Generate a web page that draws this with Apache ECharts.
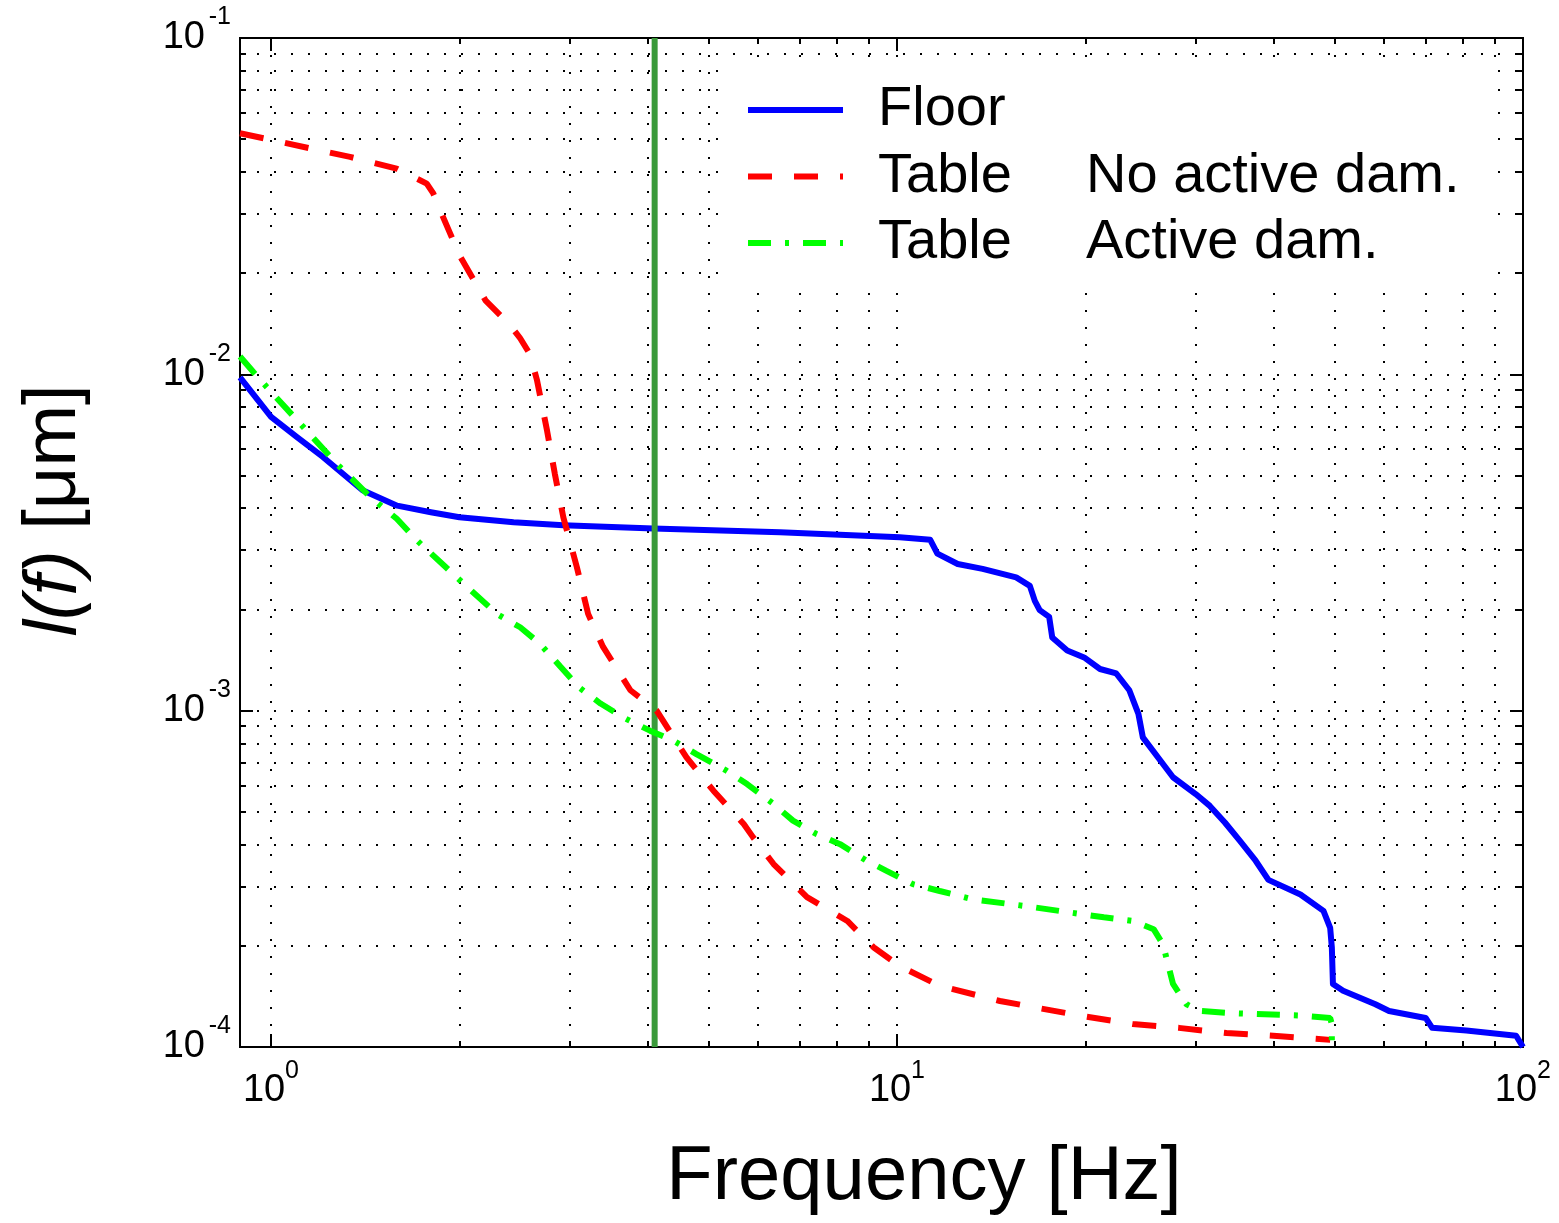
<!DOCTYPE html>
<html>
<head>
<meta charset="utf-8">
<title>l(f)</title>
<script src="https://cdn.jsdelivr.net/npm/echarts@6.0.0/dist/echarts.min.js"></script>
<style>
html, body { margin: 0; padding: 0; background: #fff; }
#main { width: 1559px; height: 1223px; }
</style>
</head>
<body>
<div id="main"></div>
<script>
// axis ranges and ticks
var xMin = 0.892, xMax = 100;
var yMin = 1e-4, yMax = 1e-1;
var xMajor = [1, 10, 100];
var xMinor = [2, 3, 4, 5, 6, 7, 8, 9, 20, 30, 40, 50, 60, 70, 80, 90];
var yMajor = [1e-4, 1e-3, 1e-2, 1e-1];
var yMinor = [2e-4, 3e-4, 4e-4, 5e-4, 6e-4, 7e-4, 8e-4, 9e-4,
              2e-3, 3e-3, 4e-3, 5e-3, 6e-3, 7e-3, 8e-3, 9e-3,
              2e-2, 3e-2, 4e-2, 5e-2, 6e-2, 7e-2, 8e-2, 9e-2];

// legend texts
var seriesNames = ['Floor', 'Table', 'Table'];
var seriesNotes = ['', 'No active dam.', 'Active dam.'];
var legendKeys = ['Floor', 'Table No active dam.', 'Table Active dam.'];

// Floor
var floorFreq = [0.892, 1.0, 1.1, 1.21, 1.4, 1.59, 1.8, 2.0, 2.44, 2.93, 4.08, 6.5, 10.1, 11.3, 11.6, 12.5, 13.7, 15.5, 16.3, 16.6,
                 16.9, 17.5, 17.7, 18.7, 19.9, 21.1, 22.4, 23.5, 24.3, 24.7, 26.6, 27.6, 30.0, 31.6, 33.4, 35.3, 37.4, 39.2, 44.1, 48.0,
                 49.2, 49.5, 49.7, 51.6, 58.1, 61.1, 69.9, 71.6, 81.2, 97.5, 100];
var floorAmp = [0.0098, 0.00747, 0.00651, 0.00568, 0.00452, 0.00407, 0.00389, 0.00376, 0.00363, 0.00356, 0.00348, 0.00339, 0.00328, 0.00322, 0.00293, 0.00273, 0.00264, 0.00249, 0.00235, 0.00212,
                0.00199, 0.0019, 0.00165, 0.00151, 0.00144, 0.00133, 0.00129, 0.00115, 0.000978, 0.000833, 0.000694, 0.000634, 0.000565, 0.000521, 0.000465, 0.00041, 0.000358, 0.000314, 0.000284, 0.000254,
                0.000226, 0.000198, 0.000154, 0.000147, 0.000134, 0.000128, 0.000122, 0.000114, 0.000112, 0.000108, 0.0001];

// Table, no active damping
var tableFreq = [0.892, 1.337, 1.587, 1.773, 1.816, 1.862, 2.0, 2.2, 2.41, 2.5, 2.59, 2.66, 2.76, 2.84, 2.93, 3.08, 3.21, 3.39, 3.75, 4.13,
                 4.61, 5.09, 5.69, 5.89, 6.35, 7.18, 8.33, 9.17, 10.1, 11.7, 14.6, 19.6, 23.8, 28.2, 33.6, 39.9, 49.2];
var tableAmp = [0.0521, 0.0443, 0.0409, 0.0369, 0.0345, 0.0308, 0.0226, 0.0166, 0.014, 0.0128, 0.0115, 0.0096, 0.0068, 0.00506, 0.00376, 0.00267, 0.00194, 0.00155, 0.00115, 0.001,
                0.000726, 0.000578, 0.00046, 0.00042, 0.00035, 0.000279, 0.000237, 0.000198, 0.000174, 0.000152, 0.000137, 0.000124, 0.000117, 0.000114, 0.00011, 0.000108, 0.000105];

// Table, active damping
var activeFreq = [0.892, 0.937, 0.984, 1.126, 1.273, 1.44, 1.588, 1.71, 1.98, 2.295, 2.5, 2.69, 2.9, 3.11, 3.36, 3.65, 4.03, 4.39, 4.78, 5.34,
                  5.76, 6.35, 6.82, 7.43, 8.11, 8.94, 9.62, 10.6, 11.7, 13.2, 15.9, 21.4, 23.8, 25.7, 26.6, 27.1, 27.6, 29.0, 30.5, 34.5,
                  44.1, 49.2, 49.5, 49.5];
var activeAmp = [0.0113, 0.01016, 0.00917, 0.00697, 0.00542, 0.00432, 0.00372, 0.00321, 0.00249, 0.00194, 0.00177, 0.00158, 0.00135, 0.00117, 0.00105, 0.000955, 0.000872, 0.000815, 0.000743, 0.000663,
                 0.000605, 0.000528, 0.000471, 0.00043, 0.000401, 0.000358, 0.000334, 0.000305, 0.000291, 0.000275, 0.000263, 0.000243, 0.000237, 0.000224, 0.000202, 0.000176, 0.000154, 0.000134, 0.000128, 0.000126,
                 0.000124, 0.000122, 0.000117, 0.00009];

// vertical marker
var cutoffFreq = 4.1;

var font = "'Liberation Sans', Arial, Helvetica, sans-serif";

function pairs(fs, vs) {
	return fs.map(function (f, i) { return [f, vs[i]]; });
}

function baseLabel() {
	return '10';
}
function expLabel(v) {
	return String(Math.round(Math.log10(v)));
}

var gridDots = { show: true, lineStyle: { color: '#000', width: 2, type: [2, 15] } };

// "10" goes on the major-tick axis, the exponent on the minor-tick axis
function xAxisOf(pos, ticks, len, label, withGrid) {
	var ax = {
		type: 'log', position: pos, min: xMin, max: xMax,
		axisLine: { show: false },
		axisTick: { show: true, inside: true, length: len, customValues: ticks, lineStyle: { color: '#000', width: 2 } },
		axisLabel: { show: false },
		splitLine: withGrid ? gridDots : { show: false },
		minorTick: { show: false }
	};
	if (label === 'base') {
		ax.axisLabel = { show: true, customValues: xMajor, margin: 25, fontSize: 38, lineHeight: 38, color: '#000', fontFamily: font,
			padding: [0, 14, 0, 0], formatter: baseLabel };
		ax.name = 'Frequency [Hz]';
		ax.nameLocation = 'middle';
		ax.nameGap = 93;
		ax.nameTextStyle = { fontSize: 76, color: '#000', fontFamily: font, padding: [0, 0, 0, 85] };
	} else if (label === 'exp') {
		ax.axisLabel = { show: true, customValues: xMajor, margin: 12, fontSize: 25, lineHeight: 25, color: '#000', fontFamily: font,
			padding: [0, 0, 0, 42], formatter: expLabel };
	}
	return ax;
}

function yAxisOf(pos, ticks, len, label, withGrid) {
	var ax = {
		type: 'log', position: pos, min: yMin, max: yMax,
		axisLine: { show: false },
		axisTick: { show: true, inside: true, length: len, customValues: ticks, lineStyle: { color: '#000', width: 2 } },
		axisLabel: { show: false },
		splitLine: withGrid ? gridDots : { show: false },
		minorTick: { show: false }
	};
	if (label === 'base') {
		ax.axisLabel = { show: true, customValues: yMajor, margin: 35, fontSize: 38, lineHeight: 38, color: '#000', fontFamily: font,
			formatter: baseLabel };
		ax.name = '{i|l(f)} [μm]';
		ax.nameLocation = 'middle';
		ax.nameGap = 148;
		ax.nameTextStyle = {
			fontSize: 74, color: '#000', fontFamily: font, padding: [0, 0, 0, 64],
			rich: { i: { fontSize: 74, fontStyle: 'italic', color: '#000', fontFamily: font } }
		};
	} else if (label === 'exp') {
		ax.axisLabel = { show: true, customValues: yMajor, margin: 9, fontSize: 25, lineHeight: 25, color: '#000', fontFamily: font,
			verticalAlign: 'bottom', padding: [0, 0, 8, 0], formatter: expLabel };
	}
	return ax;
}

var chart = echarts.init(document.getElementById('main'));

var option = {
	animation: false,
	backgroundColor: '#fff',
	grid: { left: 240, right: 36, top: 38, bottom: 176, show: true, borderColor: '#000', borderWidth: 2, backgroundColor: 'transparent' },
	xAxis: [
		xAxisOf('bottom', xMajor, 13, 'base', true),
		xAxisOf('bottom', xMinor, 6, 'exp', true),
		xAxisOf('top', xMajor, 13, null, false),
		xAxisOf('top', xMinor, 6, null, false)
	],
	yAxis: [
		yAxisOf('left', yMajor, 13, 'base', true),
		yAxisOf('left', yMinor, 6, 'exp', true),
		yAxisOf('right', yMajor, 13, null, false),
		yAxisOf('right', yMinor, 6, null, false)
	],
	legend: {
		orient: 'vertical',
		left: 722,
		top: 68,
		padding: [14, 37, 11, 23],
		backgroundColor: '#fff',
		itemWidth: 95,
		itemHeight: 20,
		itemGap: 10.5,
		itemStyle: { opacity: 0 },
		lineStyle: { width: 6 },
		data: legendKeys,
		formatter: function (name) {
			var i = legendKeys.indexOf(name);
			if (!seriesNotes[i]) return '{a|' + seriesNames[i] + '}';
			return '{a|' + seriesNames[i] + '}{b|' + seriesNotes[i] + '}';
		},
		textStyle: {
			fontSize: 56, lineHeight: 56, color: '#000', fontFamily: font,
			rich: {
				a: { fontSize: 56, lineHeight: 56, width: 208, padding: [0, 0, 0, 30], color: '#000', fontFamily: font },
				b: { fontSize: 56, lineHeight: 56, color: '#000', fontFamily: font }
			}
		}
	},
	series: [
		{
			name: legendKeys[0], type: 'line', symbol: 'none', showSymbol: false,
			data: pairs(floorFreq, floorAmp),
			lineStyle: { color: '#0000ff', width: 6, join: 'round' },
			itemStyle: { color: '#0000ff' },
			z: 3
		},
		{
			name: 'cutoff', type: 'line', symbol: 'none', showSymbol: false,
			data: [[cutoffFreq, yMin], [cutoffFreq, yMax]],
			lineStyle: { color: '#3a9a3a', width: 6 },
			itemStyle: { color: '#3a9a3a' },
			z: 4
		},
		{
			name: legendKeys[1], type: 'line', symbol: 'none', showSymbol: false,
			data: pairs(tableFreq, tableAmp),
			lineStyle: { color: '#ff0000', width: 6, type: [24, 22] },
			itemStyle: { color: '#ff0000' },
			z: 5
		},
		{
			name: legendKeys[2], type: 'line', symbol: 'none', showSymbol: false,
			data: pairs(activeFreq, activeAmp),
			lineStyle: { color: '#00ff00', width: 6, type: [23, 14, 4, 14] },
			itemStyle: { color: '#00ff00' },
			z: 5
		}
	]
};

chart.setOption(option);
</script>
</body>
</html>
